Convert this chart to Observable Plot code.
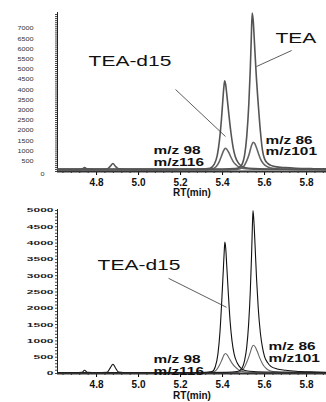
<!DOCTYPE html>
<html><head><meta charset="utf-8">
<script src="https://cdn.jsdelivr.net/npm/d3@7"></script>
<script src="https://cdn.jsdelivr.net/npm/@observablehq/plot@0.6"></script>
<style>
html,body{margin:0;padding:0;background:#fff;}
svg{display:block;}
</style></head><body>
<div id="c"></div>
<script>
// ---- data: [RT (min), intensity] ----
const topMz98 = [[4.614,110],[4.70,105],[4.73,115],[4.743,190],[4.757,115],[4.80,110],[4.85,125],[4.866,260],[4.878,390],[4.89,250],[4.905,135],[4.95,110],[5.05,105],[5.20,110],[5.30,120],[5.34,160],[5.36,350],[5.375,800],[5.385,1500],[5.395,2600],[5.40,3300],[5.405,4000],[5.41,4450],[5.415,4250],[5.42,3800],[5.43,2800],[5.44,1900],[5.45,1200],[5.46,750],[5.475,420],[5.49,260],[5.51,180],[5.55,140],[5.62,120],[5.75,110],[5.895,105]];
const topMz116 = [[4.614,90],[5.0,90],[5.30,95],[5.35,130],[5.37,250],[5.385,500],[5.395,760],[5.405,1020],[5.413,1140],[5.42,1090],[5.43,920],[5.44,700],[5.45,500],[5.465,320],[5.48,210],[5.50,150],[5.55,110],[5.895,95]];
const topMz86 = [[4.614,120],[4.70,115],[4.80,120],[4.90,125],[5.0,115],[5.20,115],[5.40,120],[5.46,140],[5.48,200],[5.495,400],[5.505,800],[5.515,1700],[5.525,3300],[5.532,5000],[5.537,6600],[5.541,7770],[5.546,7400],[5.552,6300],[5.56,4800],[5.57,3300],[5.58,2000],[5.59,1050],[5.60,620],[5.615,400],[5.63,300],[5.65,240],[5.70,190],[5.75,160],[5.82,140],[5.895,130]];
const topMz101 = [[4.614,90],[5.2,90],[5.45,95],[5.48,130],[5.50,250],[5.515,520],[5.528,900],[5.538,1280],[5.546,1437],[5.553,1380],[5.562,1150],[5.572,850],[5.582,580],[5.595,380],[5.61,250],[5.63,170],[5.67,120],[5.75,100],[5.895,95]];

const botMz98 = [[4.614,25],[4.70,25],[4.73,35],[4.743,100],[4.757,35],[4.80,25],[4.85,35],[4.866,180],[4.878,285],[4.89,170],[4.905,45],[4.95,25],[5.1,25],[5.30,30],[5.35,60],[5.365,200],[5.378,600],[5.388,1300],[5.396,2200],[5.403,3100],[5.408,3750],[5.411,4029],[5.415,3850],[5.42,3300],[5.428,2400],[5.436,1600],[5.445,1000],[5.455,600],[5.47,320],[5.485,180],[5.50,110],[5.53,70],[5.60,45],[5.895,30]];
const botMz116 = [[4.614,15],[5.30,15],[5.35,30],[5.37,100],[5.385,250],[5.397,420],[5.407,570],[5.414,612],[5.422,570],[5.432,460],[5.445,320],[5.46,200],[5.475,120],[5.49,70],[5.52,40],[5.60,25],[5.895,20]];
const botMz86 = [[4.614,30],[4.80,30],[5.20,30],[5.42,35],[5.47,60],[5.49,140],[5.505,400],[5.515,800],[5.524,1500],[5.532,2500],[5.538,3600],[5.542,4500],[5.545,5000],[5.549,4700],[5.555,3900],[5.562,2900],[5.57,2000],[5.58,1250],[5.59,800],[5.60,520],[5.615,330],[5.63,220],[5.66,140],[5.70,100],[5.75,70],[5.82,50],[5.895,40]];
const botMz101 = [[4.614,15],[5.40,15],[5.47,30],[5.49,80],[5.505,200],[5.52,420],[5.532,650],[5.541,820],[5.547,866],[5.555,820],[5.565,680],[5.577,480],[5.59,300],[5.605,170],[5.62,100],[5.65,55],[5.72,35],[5.895,25]];

// ---- ticks ----
const xTicks = [4.8, 5.0, 5.2, 5.4, 5.6, 5.8];
const topYTicks = [500,1000,1500,2000,2500,3000,3500,4000,4500,5000,5500,6000,6500,7000];
const botYTicks = [0,500,1000,1500,2000,2500,3000,3500,4000,4500,5000];
const xLabel = "RT(min)";

// ---- annotations (data coordinates) ----
const topNames = [
  {text: "TEA-d15", rt: 4.762, v: 5200, big: true},
  {text: "TEA", rt: 5.652, v: 6313, big: true},
  {text: "m/z 98", rt: 5.071, v: 883, big: false},
  {text: "m/z116", rt: 5.071, v: 294, big: false},
  {text: "m/z 86", rt: 5.605, v: 1359, big: false},
  {text: "m/z101", rt: 5.605, v: 785, big: false}
];
const topPointers = [
  {rt1: 5.176, v1: 4023, rt2: 5.414, v2: 1717},
  {rt1: 5.729, v1: 5936, rt2: 5.562, v2: 5151}
];
const botNames = [
  {text: "TEA-d15", rt: 4.805, v: 3163, big: true},
  {text: "m/z 98", rt: 5.071, v: 315, big: false},
  {text: "m/z116", rt: 5.071, v: -52, big: false},
  {text: "m/z 86", rt: 5.619, v: 713, big: false},
  {text: "m/z101", rt: 5.619, v: 346, big: false}
];
const botPointers = [
  {rt1: 5.143, v1: 2918, rt2: 5.419, v2: 2030}
];

const xDomain = [4.614, 5.895];
const FONT = "Liberation Sans, Arial, sans-serif";

function stretch(svg, selector, sx) {
  svg.querySelectorAll(selector).forEach(t => {
    const tr = t.getAttribute("transform") || "";
    t.setAttribute("transform", tr + ` scale(${sx},1)`);
  });
}

function panel(o) {
  const minorX = d3.range(4.64, 5.89, 0.04);
  const minorY = d3.range(0, o.yMax, 100);
  const svg = Plot.plot({
    width: 326, height: 201,
    marginLeft: 57, marginRight: 0, marginTop: o.mt, marginBottom: o.mb,
    style: {fontFamily: FONT, background: "#fff"},
    x: {domain: xDomain},
    y: {domain: [0, o.yMax]},
    marks: [
      Plot.axisY(minorY, {tickSize: 2, tickFormat: () => "", stroke: "#444", label: null}),
      Plot.axisY(o.yTicks, {tickSize: o.ySize, tickPadding: o.yPad, fontSize: o.yFont, fontWeight: o.yWeight, fill: o.yFill, label: null, tickFormat: d => String(d)}),
      ...(o.zero ? [Plot.axisY([0], {tickSize: 0, tickPadding: 13, dy: 3, fontSize: o.yFont, fill: o.yFill, label: null, tickFormat: d => String(d)})] : []),
      Plot.axisX(minorX, {tickSize: 2, tickFormat: () => "", stroke: "#333", label: null}),
      Plot.axisX(xTicks, {tickSize: 4, tickPadding: 3, fontSize: 10, fontWeight: "bold", fill: "#111", label: null, tickFormat: d3.format(".1f")}),
      Plot.ruleX([xDomain[0]], {stroke: "#222", strokeWidth: 1}),
      Plot.line(o.series[2], {x: d => d[0], y: d => d[1], curve: "monotone-x", stroke: o.smallColor, strokeWidth: o.sw}),
      Plot.line(o.series[3], {x: d => d[0], y: d => d[1], curve: "monotone-x", stroke: o.smallColor, strokeWidth: o.sw}),
      Plot.line(o.series[0], {x: d => d[0], y: d => d[1], curve: "monotone-x", stroke: o.bigColor, strokeWidth: o.sw}),
      Plot.line(o.series[1], {x: d => d[0], y: d => d[1], curve: "monotone-x", stroke: o.bigColor, strokeWidth: o.sw}),
      Plot.ruleY([0], {stroke: "#333", strokeWidth: 2}),
      Plot.link(o.pointers, {x1: "rt1", y1: "v1", x2: "rt2", y2: "v2", stroke: "#333", strokeWidth: 0.8}),
      Plot.text(o.names.filter(d => d.big), {x: "rt", y: "v", text: "text", textAnchor: "start", lineAnchor: "bottom", fontSize: 14, fill: "#111"}),
      Plot.text(o.names.filter(d => !d.big), {x: "rt", y: "v", text: "text", textAnchor: "start", lineAnchor: "bottom", fontSize: 11, fontWeight: "bold", fill: "#111"}),
      Plot.text([xLabel], {frameAnchor: "bottom", text: d => d, lineAnchor: "middle", dy: o.labDy, fontSize: 10, fontWeight: "bold", fill: "#111"})
    ]
  });
  const bigTexts = new Set(["TEA-d15", "TEA"]);
  const smallTexts = new Set(["m/z 98", "m/z116", "m/z 86", "m/z101"]);
  svg.querySelectorAll("text").forEach(t => {
    const s = t.textContent;
    let sx = null;
    if (bigTexts.has(s)) sx = 1.5;
    else if (smallTexts.has(s)) sx = 1.4;
    if (sx) t.setAttribute("transform", (t.getAttribute("transform") || "") + ` scale(${sx},1)`);
  });
  stretch(svg, 'g[aria-label="y-axis tick label"] text', o.ySx);
  return svg;
}

const c = document.getElementById("c");
c.appendChild(panel({
  mt: 12, mb: 30, yMax: 7800, yTicks: topYTicks, ySize: 0, yPad: 24, yFont: 5, yWeight: "normal", yFill: "#333", ySx: 1.45, zero: true,
  series: [topMz98, topMz86, topMz116, topMz101], bigColor: "#555", smallColor: "#666", sw: 1.6,
  names: topNames, pointers: topPointers, labDy: 21
}));
c.appendChild(panel({
  mt: 8, mb: 29, yMax: 5030, yTicks: botYTicks, ySize: 0, yPad: 4, yFont: 6, yWeight: "bold", yFill: "#222", ySx: 2, zero: false,
  series: [botMz98, botMz86, botMz116, botMz101], bigColor: "#111", smallColor: "#666", sw: 1.1,
  names: botNames, pointers: botPointers, labDy: 22.5
}));
</script>
</body></html>
